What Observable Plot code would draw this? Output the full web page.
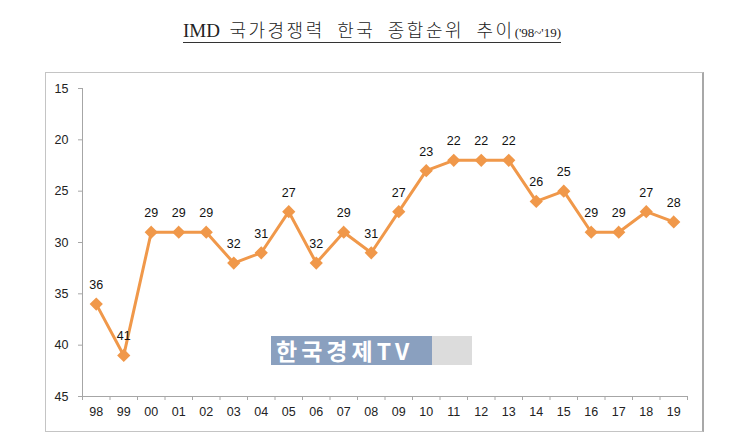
<!DOCTYPE html>
<html><head><meta charset="utf-8">
<script src="https://cdn.jsdelivr.net/npm/d3@7"></script>
<script src="https://cdn.jsdelivr.net/npm/@observablehq/plot@0.6"></script>
<style>
html,body{margin:0;padding:0;background:#fff;}
#wrap{position:relative;width:744px;height:437px;overflow:hidden;background:#fff;}
#title{position:absolute;left:0;width:744px;top:16px;text-align:center;font-family:"Liberation Serif","Noto Sans CJK KR",serif;font-size:19px;color:#222;}
#title span.t{border-bottom:1px solid #333;padding-bottom:1px;}
#title .k{font-family:"Noto Sans CJK KR";font-weight:300;font-size:18px;letter-spacing:2.5px;word-spacing:6px;}
#title .s{font-size:13px;}
#frame{position:absolute;left:45px;top:72px;width:656px;height:358px;border:1px solid #c4c4c4;border-right:2px solid #a8a8a8;}
#chart{position:absolute;left:45px;top:72px;}
#wm{position:absolute;left:271px;top:336px;width:201px;height:29px;}
#wm .b{position:absolute;left:0;top:0;width:161px;height:29px;background:#8aa0bf;color:#fff;font-family:"Noto Sans CJK KR";font-weight:700;font-size:23px;line-height:29px;padding-left:5px;box-sizing:border-box;letter-spacing:4px;white-space:nowrap;}
#wm .g{position:absolute;left:161px;top:0;width:40px;height:29px;background:#dcdcdc;}
</style></head>
<body><div id="wrap">
<div id="title"><span class="t">IMD&nbsp; <span class="k">국가경쟁력 한국 종합순위 추이</span><span class="s">('98~'19)</span></span></div>
<div id="frame"></div>
<div id="chart"></div>
<div id="wm"><div class="b">한국경제TV</div><div class="g"></div></div>
</div>
<script>
const years = ["98","99","00","01","02","03","04","05","06","07","08","09","10","11","12","13","14","15","16","17","18","19"];
const ranks = [36,41,29,29,29,32,31,27,32,29,31,27,23,22,22,22,26,25,29,29,27,28];
const yTicks = [15,20,25,30,35,40,45];

const data = years.map((y,i)=>({i: i+0.5, year: y, rank: ranks[i]}));
const boundaries = d3.range(years.length+1);
const centers = years.map((y,i)=>i+0.5);
const color = "#f0984a";

const chart = Plot.plot({
  width: 658, height: 360,
  marginLeft: 37, marginRight: 16, marginTop: 16, marginBottom: 36,
  style: {fontFamily: "'Liberation Sans', Arial, sans-serif", fontSize: "12px", color: "#222", background: "transparent"},
  x: {type: "linear", domain: [0, years.length], axis: null, label: null},
  y: {domain: [15,45], reverse: true, axis: null, label: null},
  marks: [
    Plot.ruleX([0], {stroke: "#a6a6a6"}),
    Plot.ruleY([45], {stroke: "#a6a6a6"}),
    Plot.axisY({ticks: yTicks, tickSize: 4, tickPadding: 10, stroke: "#a6a6a6", fill: "#222", fontSize: 12.5, label: null}),
    Plot.axisX({ticks: boundaries, tickSize: 4, tickFormat: () => "", stroke: "#a6a6a6", label: null}),
    Plot.axisX({ticks: centers, tickSize: 0, tickPadding: 11, tickFormat: d => years[Math.floor(d)], fill: "#222", fontSize: 12.5, label: null}),
    Plot.line(data, {x: "i", y: "rank", stroke: color, strokeWidth: 3}),
    Plot.dot(data, {x: "i", y: "rank", symbol: "diamond2", r: 5, fill: color, stroke: color}),
    Plot.text(data, {x: "i", y: "rank", text: d => String(d.rank), dy: -19, fill: "#111", fontSize: 12.5})
  ]
});
document.getElementById("chart").appendChild(chart);
</script>
</body></html>
